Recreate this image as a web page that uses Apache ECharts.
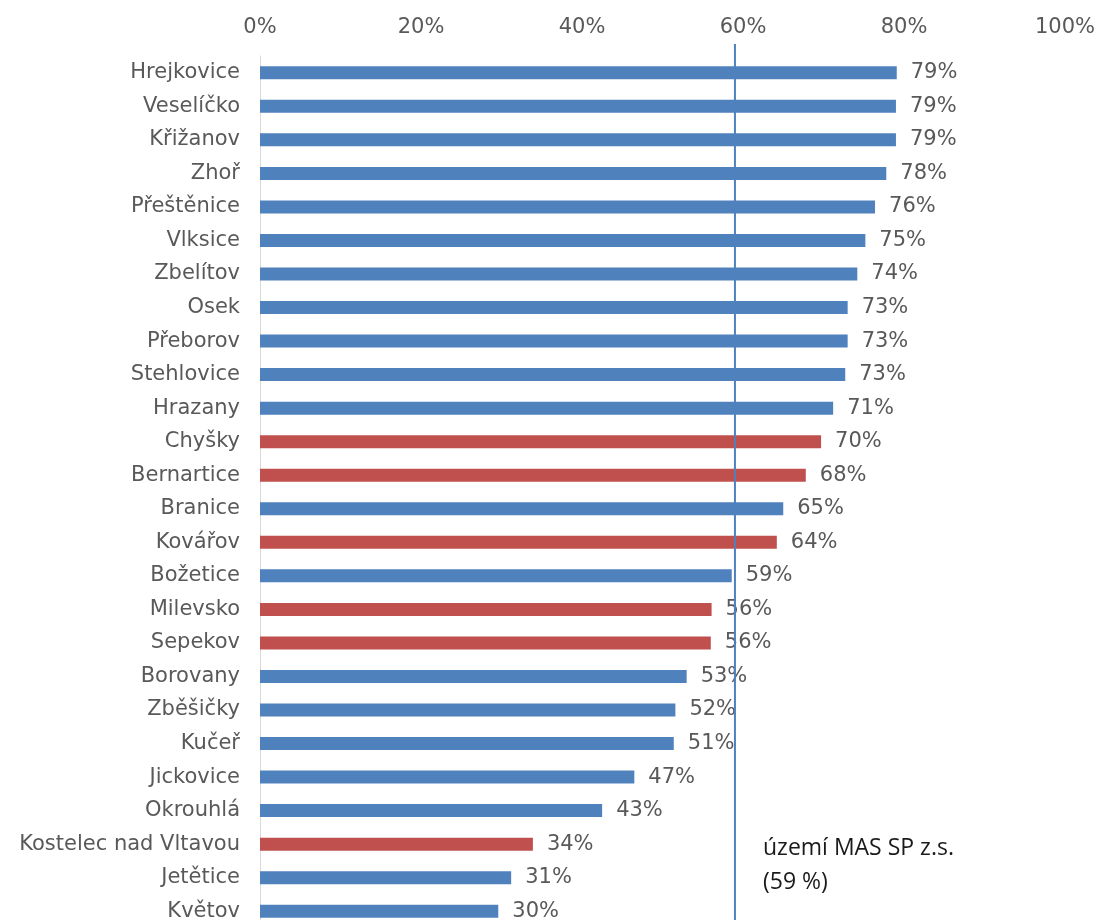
<!DOCTYPE html>
<html>
<head>
<meta charset="utf-8">
<script src="https://cdn.jsdelivr.net/npm/echarts@6/dist/echarts.min.js"></script>
<style>
html,body{margin:0;padding:0;background:#fff;}
#chart{width:1098px;height:920px;}
</style>
</head>
<body>
<div id="chart"></div>
<script>
const categories = ["Hrejkovice","Veselíčko","Křižanov","Zhoř","Přeštěnice","Vlksice","Zbelítov","Osek","Přeborov","Stehlovice","Hrazany","Chyšky","Bernartice","Branice","Kovářov","Božetice","Milevsko","Sepekov","Borovany","Zběšičky","Kučeř","Jickovice","Okrouhlá","Kostelec nad Vltavou","Jetětice","Květov"];
const values = [79.1,79.0,79.0,77.8,76.4,75.2,74.2,73.0,73.0,72.7,71.2,69.7,67.8,65.0,64.2,58.6,56.1,56.0,53.0,51.6,51.4,46.5,42.5,33.9,31.2,29.6];
const highlighted = [false,false,false,false,false,false,false,false,false,false,false,true,true,false,true,false,true,true,false,false,false,false,false,true,false,false];
const xTicks = [0,20,40,60,80,100];
const masValue = 59;
const masLabel = "území MAS SP z.s.\n(59 %)";

const BLUE = '#4F81BD', RED = '#C0504D';
const chart = echarts.init(document.getElementById('chart'));
chart.setOption({
  animation:false,
  backgroundColor:'#fff',
  grid:{left:260, width:805, top:56, height:872, containLabel:false, outerBoundsMode:'none'},
  xAxis:{
    type:'value', position:'top', min:0, max:100, interval:20,
    axisLine:{show:false}, axisTick:{show:false}, splitLine:{show:false},
    axisLabel:{color:'#595959', fontSize:21, fontFamily:'DejaVu Sans', margin:18,
      formatter:v=>xTicks.includes(v)? v+'%' : ''}
  },
  yAxis:[{
    type:'category', inverse:true, data:categories,
    axisLine:{show:true, lineStyle:{color:'#D9D9D9', width:1}}, axisTick:{show:false},
    axisLabel:{color:'#595959', fontSize:21, fontFamily:'DejaVu Sans', margin:20}
  },{
    type:'value', min:0, max:1, show:false
  }],
  series:[{
    type:'bar', barWidth:13,
    data: values.map((v,i)=>({value:v, itemStyle:{color: highlighted[i]?RED:BLUE}})),
    label:{show:true, position:'right', distance:14, color:'#595959', fontSize:21, fontFamily:'DejaVu Sans',
      formatter:p=>Math.round(p.value)+'%'}
  },{
    type:'line', yAxisIndex:1, clip:false, symbol:'none', silent:true,
    lineStyle:{color:BLUE, width:2},
    data:[[masValue,0.008],[masValue,1.0138]],
    z:3
  }],
  graphic:[{
    type:'text', left:763, top:831,
    style:{text:masLabel, fill:'#1a1a1a', fontSize:23, fontFamily:'Open Sans', lineHeight:34}
  }]
});
</script>
</body>
</html>
